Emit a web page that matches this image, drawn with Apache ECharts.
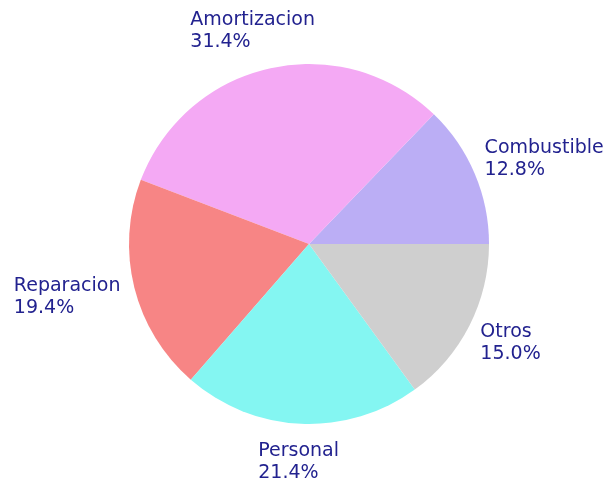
<!DOCTYPE html>
<html>
<head>
<meta charset="utf-8">
<script src="https://cdn.jsdelivr.net/npm/echarts@6/dist/echarts.min.js"></script>
<style>
  html, body { margin: 0; padding: 0; background: #fff; }
  #chart { width: 608px; height: 479px; }
</style>
</head>
<body>
<div id="chart"></div>
<script>
const categories = ['Combustible', 'Amortizacion', 'Reparacion', 'Personal', 'Otros']
const values = [12.8, 31.4, 19.4, 21.4, 15.0]
const colors = ['#bbaef5', '#f4a9f4', '#f78585', '#84f6f2', '#cfcfcf']

const cx = 309
const cy = 244
const radius = 180
const gap = 16

const total = values.reduce((s, v) => s + v, 0)
// mid angle (degrees, counterclockwise from 3 o'clock) of each slice
const midAngles = []
let acc = 0
values.forEach((v) => {
  midAngles.push((acc + v / 2) / total * 360)
  acc += v
})

const chart = echarts.init(document.getElementById('chart'))

chart.setOption({
  animation: false,
  series: [{
    type: 'pie',
    center: [cx, cy],
    radius: radius,
    startAngle: 0,
    clockwise: false,
    itemStyle: { borderWidth: 0 },
    emphasis: { disabled: true },
    label: {
      show: true,
      position: 'outside',
      formatter: (p) => p.name + '\n' + p.value.toFixed(1) + '%',
      color: '#22228f',
      fontFamily: 'DejaVu Sans',
      fontSize: 19,
      lineHeight: 22,
      align: 'left',
      overflow: 'none',
      edgeDistance: 0
    },
    labelLine: { show: false },
    // push each label box just outside the rim along its slice's mid angle
    labelLayout: (params) => {
      const a = midAngles[params.dataIndex] * Math.PI / 180
      const w = params.labelRect.width
      const h = params.labelRect.height
      const px = cx + (radius + gap) * Math.cos(a)
      const py = cy - (radius + gap) * Math.sin(a)
      const bx = px + w / 2 * Math.cos(a)
      const by = py - h / 2 * Math.sin(a)
      return { x: bx - w / 2, y: by, align: 'left', verticalAlign: 'middle' }
    },
    data: categories.map((name, i) => ({
      name: name,
      value: values[i],
      itemStyle: { color: colors[i] }
    }))
  }]
})
</script>
</body>
</html>
